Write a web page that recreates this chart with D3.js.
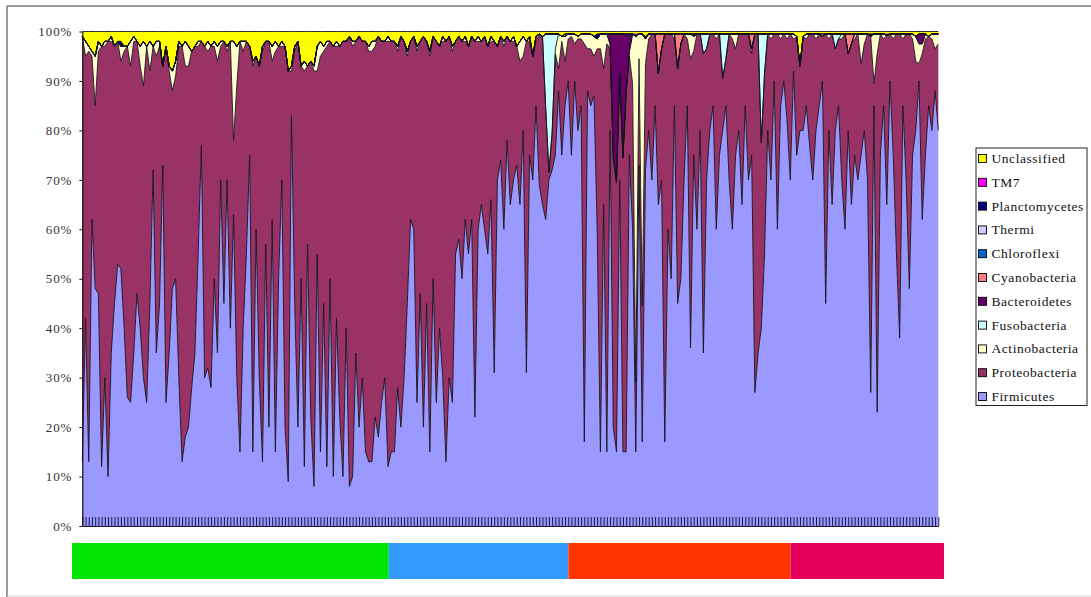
<!DOCTYPE html>
<html><head><meta charset="utf-8">
<script src="https://cdn.jsdelivr.net/npm/d3@7"></script>
<style>
html,body{margin:0;padding:0;background:#fff;}
svg{display:block;font-family:"Liberation Serif","Times New Roman",serif;}
</style></head><body>
<svg id="chart" width="1091" height="597"></svg>
<script>
// Relative abundance (%) of each phylum per sample, in sample order.
const firmicutes = [
 13,42,13,62,48,47,12,30,10,35, 45,53,52,40,26,25,35,47,40,30, 25,45,72,35,45,73,25,35,48,50,
 30,13,18,20,28,35,55,77,30,32, 28,50,35,70,45,70,40,63,30,15, 40,55,75,15,60,30,13,57,20,62,
 15,50,70,20,9,83,45,20,50,12, 57,22,8,55,15,45,12,50,10,42, 22,10,40,8,10,35,20,30,15,13,
 13,22,18,25,30,12,15,
 15,28,20,30,45,62,60,25,47,20, 45,15,50,25,40,30,13,30,25,55, 58,50,62,55,62,22,60,65,60,55,
 66,31,70,74,60,78,65,70,73,65, 80,31,75,70,85,69,65,62,70,72, 75,88,75,85,90,
 75,90,80,85,17,88,85,87,60,15, 65,15,80,20,15,70,15,15,75,60, 15,73,17,72,80,70,85,65,70,17,
 60,50,85,45,50,70,85,36,75,60, 80,35,70,80,85,60,75,80,85,70, 60,75,80,65,85,70,75,27,35,40,
 55,80,70,90,60,85,90,82,
 70,92,75,80,80,85,77,70,80,85, 90,45,80,65,80,85,70,60,80,65, 75,70,75,80,70,27,85,23,75,85,
 65,90,75,55,38,85,70,48,75,80, 90,62,75,85,80,88,80
];
const proteobacteria = [
 86,53,83,33,37,49,85,67,88,63, 52,45,42,56,71,68,63,51,53,59, 72,47,25,60,52,20,72,57,40,41,
 67,84,75,73,68,62,42,21,67,64, 69,47,59,27,53,26,58,15,59,83, 56,43,22,78,35,63,83,41,78,32,
 81,47,27,77,83,9,51,78,43,80, 36,72,84,37,80,51,85,48,87,55, 75,88,58,91,87,63,79,68,83,83,
 83,75,81,73,68,86,83,
 83,68,79,68,50,36,39,71,51,79, 53,80,49,73,57,68,85,69,71,43, 41,48,36,42,37,76,38,33,39,42,
 32,67,27,25,37,21,33,28,24,29, 15,67,23,25,13,30.5,34,22.5,1.5,7.5, 20.5,4.5,23,9,8.5,
 24,7.5,18.5,13.5,80.5,8.5,11.5,8,36.5,81.5, 27.5,82.5,16.5,54.5,54.5,21.5,59.5,72.5,20,29.5,
 14,21.5,27.5,21.5,18.5,29.5,14.5,26.5,26.5,82.5, 39.5,49.5,13.5,47.5,47.5,29.5,13.5,58.5,21,39.5,
 19.5,60.5,26.5,19.5,14.5,38.5,24.5,10.5,9.5,29.5, 38.5,21.5,19.5,34.5,14.5,29.5,20.5,72.5,64.5,37.5,
 36.5,19.5,28.5,9.5,39.5,13.5,9.5,16.5,
 29.5,6.5,24,13,19,13.5,22.5,29.5,18.5,14.5, 9,54.5,18.5,34.5,16.5,13.5,28.5,39.5,15.5,32.5,
 23.5,29.5,18.5,17.5,29.5,72,4.5,72.5,24.5,13.5, 34.2,9.5,23.5,44.5,61.5,13.5,29.5,51.5,23.5,14,
 3.5,33.5,23.5,14,18.5,8.5,17.5
];
const actinobacteria = [
 0,3,1,1,10,2,0,1,0,1, 0,0,3,1,0,5,1,0,4,9, 0,6,0,3,1,0,0,1,4,3,
 1,0,5,4,0,0,1,0,0,2, 0,1,3,1,0,1,0,20,8,0, 2,0,0,1,0,0,1,0,0,3,
 2,0,1,0,0,1,1,0,0,2, 0,0,1,5,3,1,1,0,0,1, 0,0,0,0,1,0,0,0,0,1,
 2,1,0,0,0,1,0,
 0,1,0,0,1,0,0,1,0,0, 0,1,0,0,0,1,0,0,1,0, 0,0,1,0,0,0,1,0,0,0,
 1,0,0,0,1,0,0,1,0,4, 4,0,1,0,1,0,0,0,0,0, 1,7,1,5,1,
 0.5,2,0.5,1,2,3,3,4,2,3, 7,2,1,0,0,0,0,0,1,10, 70,5,55,5,1,0,0,0,0,0,
 0,0,1,0,0,0,1,5,3,0, 0,0,0,0,0,1,0,0,0,0, 1,3,0,0,0,0,1,0,0,0,
 0,0,1,0,0,1,0,1,
 0,1,0,0,0,1,0,0,1,0, 0,0,1,0,0,0,1,0,0,0, 1,0,6,2,0,0,10,4,0,1,
 0,0,1,0,0,1,0,0,1,5, 4,2,1,0,1,3,2
];
const unclassified = [
 1,2,3,4,5,2,3,2,2,1, 3,2,2,3,3,2,1,2,3,2, 3,2,3,2,2,7,3,7,8,6,
 2,3,2,3,4,3,2,2,3,2, 3,2,3,2,2,3,2,2,3,2, 2,2,3,6,5,7,3,2,2,3,
 2,3,2,3,8,7,3,2,7,6, 7,6,7,3,2,3,2,2,3,2, 3,2,2,1,2,2,1,2,2,3,
 2,2,1,2,2,1,2,
 2,3,1,2,4,2,1,3,2,1, 2,4,1,2,3,1,2,1,3,2, 1,2,1,3,1,2,1,2,1,3,
 1,2,3,1,2,1,2,1,3,2, 1,2,1,5,1,0.5,1,0.5,0.5,0.5, 0.5,0.5,1,0.5,0.5,
 0.5,0.5,1,0.5,0.5,0.5,0.5,1,0.5,0.5, 0.5,0.5,0.5,0.5,0.5,0.5,0.5,0.5,0.5,0.5,
 0.5,0.5,0.5,1,0.5,0.5,0.5,0.5,0.5,0.5, 0.5,0.5,0.5,0.5,0.5,0.5,0.5,0.5,0.5,0.5,
 0.5,0.5,0.5,0.5,0.5,0.5,0.5,0.5,0.5,0.5, 0.5,0.5,0.5,0.5,0.5,0.5,0.5,0.5,0.5,0.5,
 0.5,0.5,0.5,0.5,0.5,0.5,0.5,0.5,
 0.5,0.5,1,7,1,0.5,0.5,0.5,0.5,0.5, 0.5,0.5,0.5,0.5,0.5,0.5,0.5,0.5,0.5,0.5,
 0.5,0.5,0.5,0.5,0.5,0.5,0.5,0.5,0.5,0.5, 0.5,0.5,0.5,0.5,0.5,0.5,0.5,0.5,0.5,1,
 0.5,0.5,0.5,1,0.5,0.5,0.5
];
// Rare phyla, listed as [sample index, %]; absent samples are 0.
const fusobacteria = [[144,15],[145,28],[146,20],[147,3],[193,4],[194,3],[199,9],[200,5],[211,22],[212,8],[234,3],[235,1]];
const bacteroidetes = [[164,2],[165,25],[166,30],[167,8],[168,25],[169,12],[170,3],[260,2],[261,2]];
const cyanobacteria = [[179,8],[180,3],[185,7],[186,2],[208,3],[238,4],[239,2]];
const chloroflexi = [[170,0.5],[190,0.5]];
const thermi = [[150,0.5],[230,0.5]];
const planctomycetes = [[12,1],[160,1],[175,0.5],[245,0.5]];
const tm7 = [[172,0.5],[250,0.3]];

// Number of samples in each sample group, left to right.
const groupCounts = [97, 55, 68, 47];
const yTicks = [0,10,20,30,40,50,60,70,80,90,100];

const N = firmicutes.length;
const dense = pairs => { const a = new Array(N).fill(0); pairs.forEach(([i, v]) => { a[i] = v; }); return a; };

// Stacking order, bottom to top.
const phyla = [
  {key: "Firmicutes",     values: firmicutes,            color: "#9999ff"},
  {key: "Proteobacteria", values: proteobacteria,        color: "#993366"},
  {key: "Actinobacteria", values: actinobacteria,        color: "#ffffcc"},
  {key: "Fusobacteria",   values: dense(fusobacteria),   color: "#ccffff"},
  {key: "Bacteroidetes",  values: dense(bacteroidetes),  color: "#660066"},
  {key: "Cyanobacteria",  values: dense(cyanobacteria),  color: "#ff8080"},
  {key: "Chloroflexi",    values: dense(chloroflexi),    color: "#0066cc"},
  {key: "Thermi",         values: dense(thermi),         color: "#ccccff"},
  {key: "Planctomycetes", values: dense(planctomycetes), color: "#000080"},
  {key: "TM7",            values: dense(tm7),            color: "#ff00ff"},
  {key: "Unclassified",   values: unclassified,          color: "#ffff00"}
];

const samples = d3.range(N);
const rows = samples.map(i => {
  const r = {i};
  phyla.forEach(p => { r[p.key] = p.values[i]; });
  return r;
});

const svg = d3.select("#chart");
const W = 1091, H = 597;
const plot = {left: 82.3, right: 938.3, top: 31.5, bottom: 526};

// frame
svg.append("line").attr("x1", 7).attr("x2", W).attr("y1", 6).attr("y2", 6)
  .attr("stroke", "#7a7a7a").attr("stroke-width", 1.5);
svg.append("line").attr("x1", 7).attr("x2", 7).attr("y1", 6).attr("y2", H)
  .attr("stroke", "#7a7a7a").attr("stroke-width", 1.5);
svg.append("line").attr("x1", 7).attr("x2", W).attr("y1", 596).attr("y2", 596)
  .attr("stroke", "#d4d4d4").attr("stroke-width", 1.2);

const x = d3.scalePoint().domain(samples).range([plot.left, plot.right]);
const y = d3.scaleLinear().domain([0, 100]).range([plot.bottom, plot.top]);

const stack = d3.stack().keys(phyla.map(p => p.key)).offset(d3.stackOffsetExpand);
const series = stack(rows);

const area = d3.area()
  .x(d => x(d.data.i))
  .y0(d => y(d[0] * 100))
  .y1(d => y(d[1] * 100));
const topLine = d3.line()
  .x(d => x(d.data.i))
  .y(d => y(d[1] * 100));

const g = svg.append("g");
g.selectAll("path.layer").data(series).join("path")
  .attr("class", "layer")
  .attr("d", area)
  .attr("fill", (s, k) => phyla[k].color)
  .attr("stroke", "none");
g.selectAll("path.edge").data(series).join("path")
  .attr("class", "edge")
  .attr("d", topLine)
  .attr("fill", "none")
  .attr("stroke", "#14121e")
  .attr("stroke-width", 0.9)
  .attr("stroke-linejoin", "round");

// x axis: one inward tick per sample
const xAxis = svg.append("g")
  .attr("transform", `translate(0,${plot.bottom})`)
  .call(d3.axisBottom(x).tickSizeInner(-9).tickSizeOuter(0).tickFormat(""));
xAxis.select(".domain").attr("stroke", "#1a1a2a").attr("stroke-width", 1.2);
xAxis.selectAll(".tick line").attr("stroke", "#1d1d45").attr("stroke-width", 1);

// y axis
const yAxis = svg.append("g")
  .attr("transform", `translate(${plot.left},0)`)
  .call(d3.axisLeft(y).tickValues(yTicks).tickSize(3).tickSizeOuter(0).tickPadding(7)
    .tickFormat(d => d + "%"));
yAxis.select(".domain").attr("stroke", "#111").attr("stroke-width", 1.2);
yAxis.selectAll(".tick line").attr("stroke", "#111");
yAxis.selectAll(".tick text")
  .attr("font-family", '"Liberation Serif","Times New Roman",serif')
  .attr("font-size", 13).attr("fill", "#333").attr("letter-spacing", 0.9);

// sample group strip below the axis
const groupColors = ["#00e600", "#3399ff", "#ff3300", "#e6005c"];
const gx = d3.scaleLinear().domain([0, N]).range([72, 944]);
let acc = 0;
const groups = groupCounts.map((c, k) => { const s = acc; acc += c; return {start: s, end: acc, color: groupColors[k]}; });
svg.append("g").selectAll("rect").data(groups).join("rect")
  .attr("x", d => gx(d.start)).attr("width", d => gx(d.end) - gx(d.start))
  .attr("y", 543).attr("height", 36)
  .attr("fill", d => d.color);

// legend (top of stack first)
const legend = svg.append("g");
legend.append("rect").attr("x", 976).attr("y", 148).attr("width", 111).attr("height", 257.5)
  .attr("fill", "#fff").attr("stroke", "#222").attr("stroke-width", 1);
const items = phyla.slice().reverse();
const ly = d3.scalePoint().domain(items.map(p => p.key)).range([158.5, 396.5]);
const li = legend.selectAll("g.item").data(items).join("g").attr("class", "item")
  .attr("transform", p => `translate(0,${ly(p.key)})`);
li.append("rect").attr("x", 978.5).attr("y", -4).attr("width", 8).attr("height", 8)
  .attr("fill", p => p.color).attr("stroke", "#000").attr("stroke-width", 0.9);
li.append("text").attr("x", 991.5).attr("y", 4.5)
  .attr("font-size", 13.5).attr("letter-spacing", 0.55).attr("fill", "#111")
  .text(p => p.key);
</script>
</body></html>
